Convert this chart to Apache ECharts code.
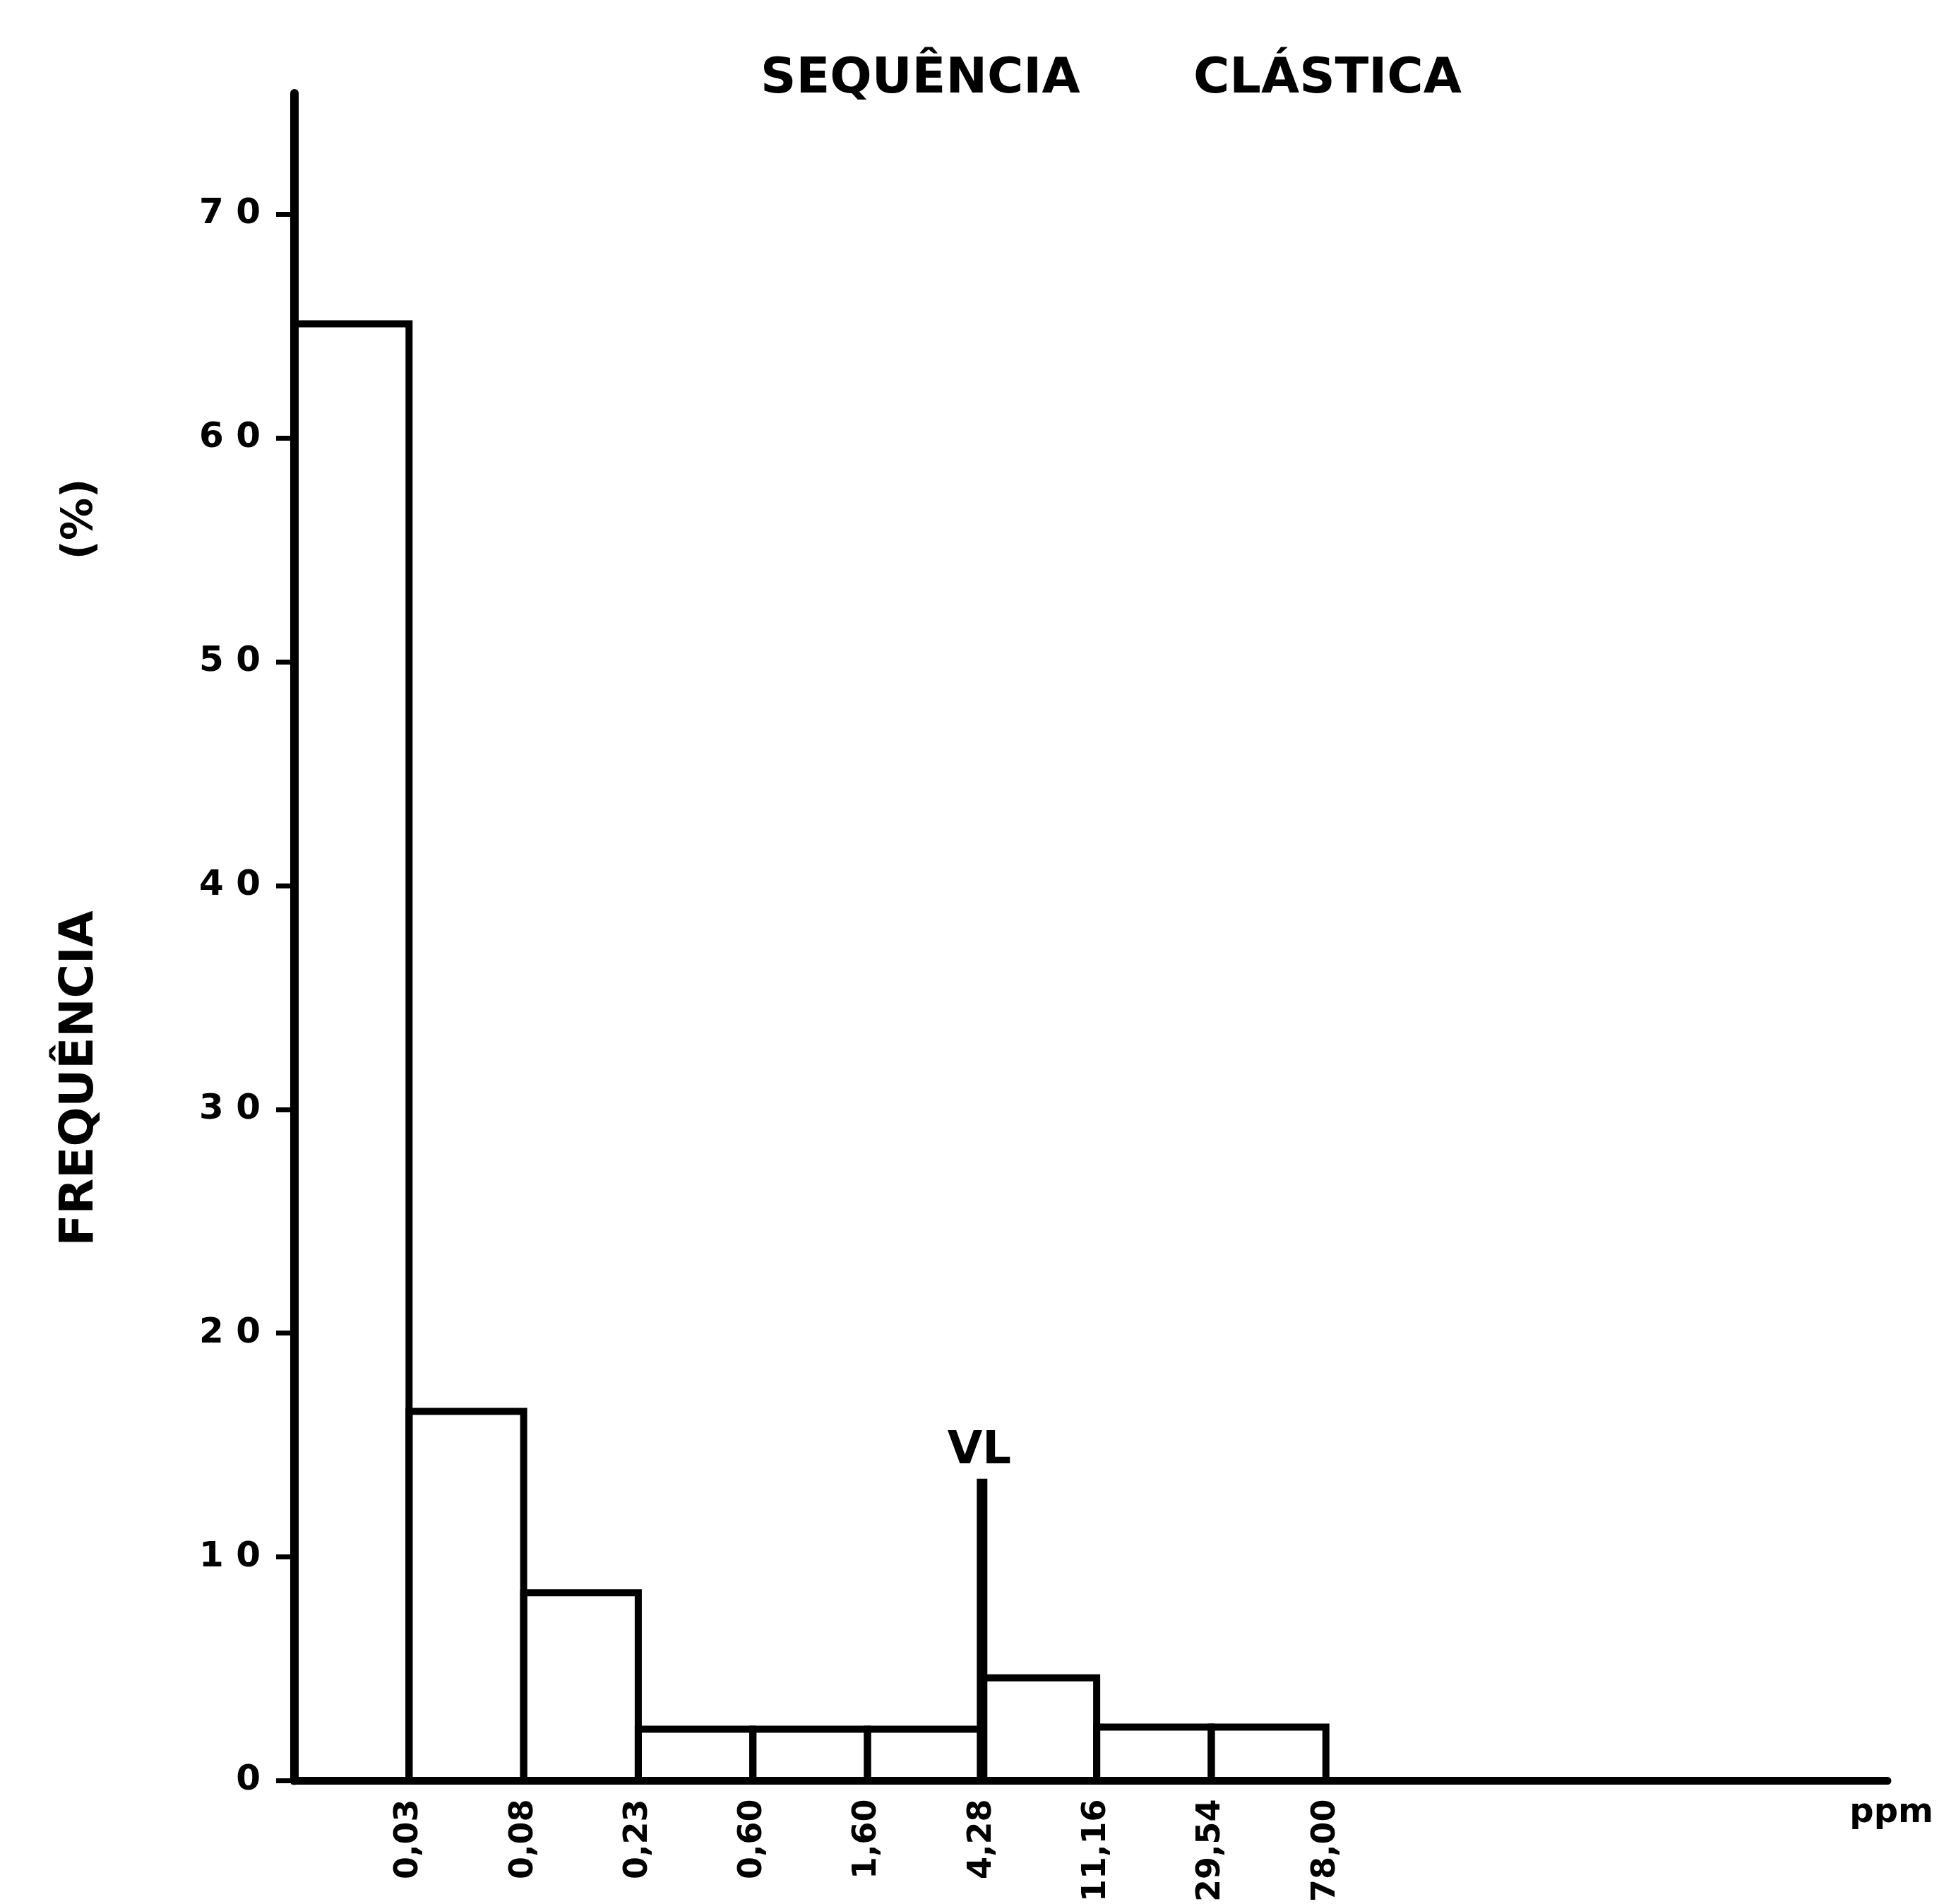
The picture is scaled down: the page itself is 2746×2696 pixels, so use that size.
<!DOCTYPE html>
<html>
<head>
<meta charset="utf-8">
<title>Sequência clástica</title>
<script src="https://cdn.jsdelivr.net/npm/echarts@6/dist/echarts.min.js"></script>
<style>
  html, body { margin: 0; padding: 0; background: #ffffff; }
  #chart { width: 2746px; height: 2696px; }
</style>
</head>
<body>
<div id="chart"></div>
<script>
// Class upper limits (ppm) written under each bin edge
const binEdgeLabels = ['0,03', '0,08', '0,23', '0,60', '1,60', '4,28', '11,16', '29,54', '78,00'];
// Frequency (%) of each class, left to right
const frequencies = [65.1, 16.5, 8.4, 2.3, 2.3, 2.3, 4.6, 2.4, 2.4];
// Frequency axis ticks
const yTicks = [0, 10, 20, 30, 40, 50, 60, 70];
// Position (bin edge index) and height of the VL marker
const vlEdge = 6;
const vlHeight = 13.5;

const INK = '#000000';
const FONT = 'DejaVu Sans';

const chart = echarts.init(document.getElementById('chart'), null, { renderer: 'canvas' });

const binData = frequencies.map((v, i) => [i, v]);
const edgeValues = binEdgeLabels.map((_, i) => i + 1);

const option = {
  backgroundColor: '#ffffff',
  animation: false,
  grid: { left: 417, right: 73, top: 132, bottom: 159, containLabel: false },
  xAxis: {
    type: 'value',
    min: 0,
    max: 13.9,
    interval: 1,
    axisLine: { show: true, lineStyle: { color: INK, width: 11 } },
    axisTick: { show: false },
    splitLine: { show: false },
    axisLabel: {
      customValues: edgeValues,
      rotate: 90,
      margin: 26,
      color: INK,
      fontFamily: FONT,
      fontWeight: 'bold',
      fontSize: 46,
      formatter: v => binEdgeLabels[Math.round(v) - 1] || ''
    }
  },
  yAxis: {
    type: 'value',
    min: 0,
    max: 75.4,
    interval: 10,
    axisLine: { show: true, lineStyle: { color: INK, width: 12 } },
    axisTick: {
      show: true,
      customValues: yTicks,
      length: 26,
      lineStyle: { color: INK, width: 7 }
    },
    splitLine: { show: false },
    axisLabel: {
      customValues: yTicks,
      margin: 48,
      color: INK,
      fontFamily: FONT,
      fontWeight: 'bold',
      fontSize: 50,
      formatter: v => String(v).split('').join(' ')
    }
  },
  series: [
    {
      // Histogram bins: one outlined rectangle per class
      type: 'custom',
      coordinateSystem: 'cartesian2d',
      data: binData,
      clip: false,
      renderItem: function (params, api) {
        const i = api.value(0);
        const v = api.value(1);
        const p0 = api.coord([i, 0]);
        const p1 = api.coord([i + 1, v]);
        return {
          type: 'rect',
          shape: { x: p0[0], y: p1[1], width: p1[0] - p0[0], height: p0[1] - p1[1] },
          style: { fill: 'rgba(0,0,0,0)', stroke: INK, lineWidth: 10 }
        };
      }
    },
    {
      // VL marker line with its label
      type: 'custom',
      coordinateSystem: 'cartesian2d',
      data: [[vlEdge, vlHeight]],
      clip: false,
      renderItem: function (params, api) {
        const x = api.value(0);
        const h = api.value(1);
        const base = api.coord([x, 0]);
        const top = api.coord([x, h]);
        return {
          type: 'group',
          children: [
            {
              type: 'line',
              shape: { x1: base[0], y1: base[1], x2: top[0], y2: top[1] },
              style: { stroke: INK, lineWidth: 15 }
            },
            {
              type: 'text',
              x: top[0] - 4,
              y: top[1] - 38,
              style: {
                text: 'VL',
                fill: INK,
                font: 'bold 64px "' + FONT + '"',
                textAlign: 'center',
                textVerticalAlign: 'middle'
              }
            }
          ]
        };
      }
    }
  ],
  graphic: [
    {
      type: 'text', left: 1077, top: 78,
      style: { text: 'SEQUÊNCIA', fill: INK, font: 'bold 70px "' + FONT + '"' }
    },
    {
      type: 'text', left: 1690, top: 78,
      style: { text: 'CLÁSTICA', fill: INK, font: 'bold 70px "' + FONT + '"' }
    },
    {
      type: 'text', x: 114, y: 1527, rotation: Math.PI / 2,
      style: { text: 'FREQUÊNCIA', fill: INK, font: 'bold 66px "' + FONT + '"', textAlign: 'center', textVerticalAlign: 'middle' }
    },
    {
      type: 'text', x: 114, y: 735, rotation: Math.PI / 2,
      style: { text: '(%)', fill: INK, font: 'bold 60px "' + FONT + '"', textAlign: 'center', textVerticalAlign: 'middle' }
    },
    {
      type: 'text', x: 2738, y: 2568,
      style: { text: 'ppm', fill: INK, font: 'bold 48px "' + FONT + '"', textAlign: 'right', textVerticalAlign: 'middle' }
    }
  ]
};

chart.setOption(option);
</script>
</body>
</html>
